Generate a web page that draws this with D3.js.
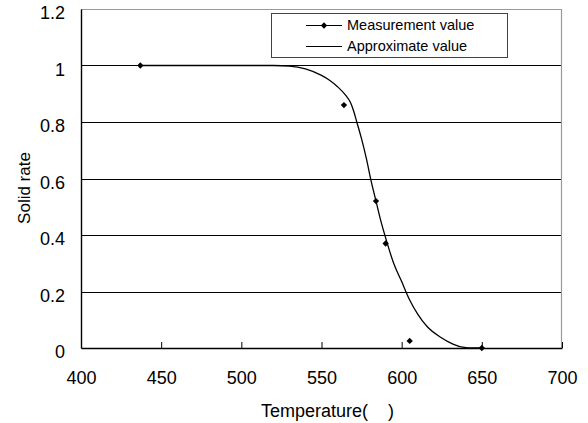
<!DOCTYPE html>
<html>
<head>
<meta charset="utf-8">
<script src="https://cdn.jsdelivr.net/npm/d3@7"></script>
<style>
  body { margin: 0; background: #fff; }
  text { font-family: "Liberation Sans", Arial, sans-serif; fill: #000; }
</style>
</head>
<body>
<div id="chart"></div>
<script>
// measured points
var measTemp = [437, 564, 584, 590, 605, 650];
var measRate = [1.0, 0.86, 0.52, 0.37, 0.025, 0.0];

// approximate curve
var approxTemp = [437, 520, 530, 540, 550, 555, 560, 565, 568, 570, 572, 575, 578, 581, 584, 587, 590, 595, 600, 605, 610, 616, 624, 632, 638, 645, 650];
var approxRate = [1.0, 1.0, 0.998, 0.988, 0.965, 0.948, 0.925, 0.895, 0.87, 0.84, 0.80, 0.74, 0.67, 0.59, 0.52, 0.45, 0.39, 0.30, 0.235, 0.17, 0.12, 0.075, 0.039, 0.014, 0.003, 0.0, 0.0];

var xTicks = [400, 450, 500, 550, 600, 650, 700];
var yTicks = [0, 0.2, 0.4, 0.6, 0.8, 1, 1.2];
var legendLabels = ["Measurement value", "Approximate value"];

var svgWidth = 588, svgHeight = 423;
var margin = {top: 9, right: 26, bottom: 75, left: 81};
var width = svgWidth - margin.left - margin.right;
var height = svgHeight - margin.top - margin.bottom;

var svg = d3.select("#chart").append("svg")
  .attr("width", svgWidth)
  .attr("height", svgHeight);

var g = svg.append("g")
  .attr("transform", `translate(${margin.left}, ${margin.top})`);

var x = d3.scaleLinear().domain([400, 700]).range([0, width]);
var y = d3.scaleLinear().domain([0, 1.2]).range([height, 0]);

// gridlines
g.selectAll(".grid")
  .data(yTicks.filter(d => d > 0 && d < 1.2))
  .enter().append("line")
  .attr("x1", 0).attr("x2", width)
  .attr("y1", d => Math.round(y(d)) + 0.5).attr("y2", d => Math.round(y(d)) + 0.5)
  .attr("stroke", "#000").attr("stroke-width", 1);

// top and right border (gray)
g.append("path")
  .attr("d", `M0,0.5H${width - 0.5}V${height}`)
  .attr("fill", "none").attr("stroke", "#999").attr("stroke-width", 1.2);

// x axis
var xAxis = d3.axisBottom(x).tickValues(xTicks).tickSizeInner(-6).tickSizeOuter(0).tickPadding(36);
var gx = g.append("g")
  .attr("transform", `translate(0, ${height})`)
  .call(xAxis);
gx.select(".domain").attr("stroke", "#000").attr("stroke-width", 1.4);
gx.selectAll(".tick line").attr("stroke", "#000");
gx.selectAll(".tick text").style("font-size", "18px").attr("dy", "0");

// y axis
var yAxis = d3.axisLeft(y).tickValues(yTicks).tickSize(0).tickPadding(16).tickFormat(d3.format("~g"));
var gy = g.append("g").call(yAxis);
gy.select(".domain").attr("stroke", "#000").attr("stroke-width", 1.4);
gy.selectAll(".tick text").style("font-size", "18px").attr("dy", "0.55em");

// approximate curve
var line = d3.line()
  .x((d, i) => x(approxTemp[i]))
  .y(d => y(d))
  .curve(d3.curveMonotoneX);
g.append("path")
  .datum(approxRate)
  .attr("d", line)
  .attr("fill", "none").attr("stroke", "#000").attr("stroke-width", 1.3);

// measured diamonds
var diamond = d3.symbol().type(d3.symbolSquare).size(20);
g.selectAll(".meas")
  .data(measRate)
  .enter().append("path")
  .attr("d", diamond)
  .attr("transform", (d, i) => `translate(${x(measTemp[i])}, ${y(d)}) rotate(45)`)
  .attr("fill", "#000");

// axis titles
svg.append("text")
  .attr("x", margin.left + width / 2 + 6)
  .attr("y", 417)
  .attr("text-anchor", "middle")
  .style("font-size", "18px")
  .style("white-space", "pre")
  .text("Temperature(    )");

svg.append("text")
  .attr("transform", `translate(30, 188) rotate(-90)`)
  .attr("text-anchor", "middle")
  .style("font-size", "17px")
  .text("Solid rate");

// legend
var lg = svg.append("g");
lg.append("rect")
  .attr("x", 271.5).attr("y", 13.5).attr("width", 236).attr("height", 44)
  .attr("fill", "#fff").attr("stroke", "#444").attr("stroke-width", 1);
var rows = [25, 46];
legendLabels.forEach(function(lbl, i) {
  lg.append("line")
    .attr("x1", 306).attr("x2", 342)
    .attr("y1", rows[i] + 0.5).attr("y2", rows[i] + 0.5)
    .attr("stroke", "#000").attr("stroke-width", 1);
  if (i === 0) {
    lg.append("path").attr("d", diamond)
      .attr("transform", `translate(324, ${rows[i] + 0.5}) rotate(45)`)
      .attr("fill", "#000");
  }
  lg.append("text")
    .attr("x", 347).attr("y", rows[i])
    .attr("dy", "0.36em")
    .style("font-size", "14.5px")
    .text(lbl);
});
</script>
</body>
</html>
